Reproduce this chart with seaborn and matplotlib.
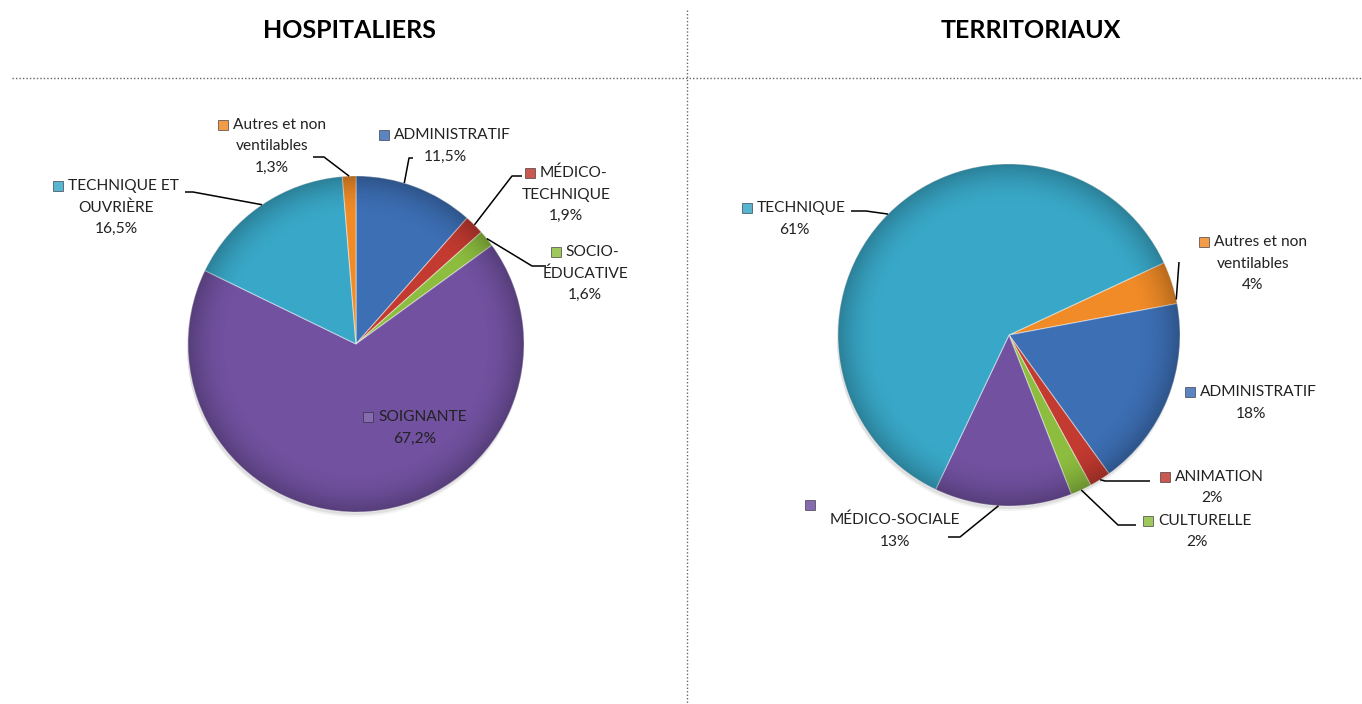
import numpy as np
import matplotlib.pyplot as plt
from matplotlib.patches import Rectangle, Circle
import seaborn as sns

W, H = 1362, 704

# --- data -------------------------------------------------------------
HOSP_TITLE = "HOSPITALIERS"
HOSP_CATEGORIES = ["ADMINISTRATIF", "MÉDICO-\nTECHNIQUE", "SOCIO-\nÉDUCATIVE",
                   "SOIGNANTE", "TECHNIQUE ET\nOUVRIÈRE", "Autres et non\nventilables"]
HOSP_VALUES = [11.5, 1.9, 1.6, 67.2, 16.5, 1.3]
HOSP_KEYS = ["admin", "red", "green", "purple", "aqua", "orange"]

TERR_TITLE = "TERRITORIAUX"
TERR_CATEGORIES = ["Autres et non\nventilables", "ADMINISTRATIF", "ANIMATION",
                   "CULTURELLE", "\nMÉDICO-SOCIALE", "TECHNIQUE"]
TERR_VALUES = [4, 18, 2, 2, 13, 61]
TERR_KEYS = ["orange", "admin", "red", "green", "purple", "aqua"]

PALETTE = {"admin": "#3D6FB5", "red": "#C23A30", "green": "#8DBD3F",
           "purple": "#7151A0", "aqua": "#39A8C8", "orange": "#F08B27"}

# --- layout (pixels from top-left) -------------------------------------
HOSP_PIE = dict(cx=356, cy=344, r=168, start=90)
TERR_PIE = dict(cx=1009, cy=335, r=171, start=25)

# label block centre x, first line y
HOSP_LABEL_POS = [(445, 135), (566, 173), (585, 252), (415, 417), (116, 186), (272, 125)]
TERR_LABEL_POS = [(1253, 242), (1251, 392), (1212, 477), (1197, 521), (895, 505), (794, 208)]
# leader: start x, y, shoulder x, arc angle (None -> wedge middle)
HOSP_LEADERS = [(413, 158, 409, 73.3), (522, 176, 512, None), (546, 266, 532, None),
                None, (185, 192, 193, 124), (313, 157, 324, None)]
TERR_LEADERS = [(1179, 262, 1179, 12), None, (1150, 481, 1105, None),
                (1136, 525, 1118, None), (948, 537, 960, -93.5), (851, 211, 866, 135)]

FONT = "Lato"
FS = 11.2
LINE_H = 21.5
MK = 10
GAP = 5
TXT = "#222222"

sns.set_theme(style="white")
plt.rcParams["font.family"] = [FONT, "DejaVu Sans"]

fig = plt.figure(figsize=(W / 100, H / 100), dpi=100)
ax = fig.add_axes([0, 0, 1, 1])
renderer = fig.canvas.get_renderer()


def shade(cx, cy, r):
    n = 400
    g = np.linspace(-1, 1, n)
    xx, yy = np.meshgrid(g, g)
    rho = np.hypot(xx, yy)
    img = np.zeros((n, n, 4))
    img[..., 3] = np.clip((rho - 0.75) / 0.25, 0, 1) ** 2 * 0.24
    im = ax.imshow(img, extent=(cx - r, cx + r, cy - r, cy + r), origin="lower",
                   zorder=3, interpolation="bilinear")
    im.set_clip_path(Circle((cx, cy), r, transform=ax.transData))


def lighten(c, f=0.15):
    return tuple(x + (1 - x) * f for x in c)


def draw_pie(values, keys, cats, pie, label_pos, leaders, decimals):
    cx, cy, r = pie["cx"], H - pie["cy"], pie["r"]
    colors = sns.color_palette([PALETTE[k] for k in keys])
    for off, a in [(5, 0.05), (3, 0.08)]:
        ax.add_patch(Circle((cx - 1, cy - off), r, color="black", alpha=a, lw=0, zorder=1))
    wedges, _ = ax.pie(values, colors=colors, startangle=pie["start"], counterclock=False,
                       center=(cx, cy), radius=r,
                       wedgeprops=dict(edgecolor=(1, 1, 1, 0.45), linewidth=0.8, zorder=2))
    shade(cx, cy, r)

    for w, v, cat, col, (lx, ly), lead in zip(wedges, values, cats, colors, label_pos, leaders):
        pct = f"{v:.{decimals}f}".replace(".", ",") + "%"
        lines = cat.split("\n") + [pct]
        first_empty = lines[0] == ""
        ys = []
        for i in range(len(lines)):
            if first_empty and i > 0:
                ys.append(ly + 15 + (i - 1) * LINE_H)
            else:
                ys.append(ly + i * LINE_H)
        widths = []
        for i, (line, y) in enumerate(zip(lines, ys)):
            if line == "":
                widths.append(0)
                continue
            x = lx + (MK + GAP) / 2 if i == 0 else lx
            t = ax.text(x, H - y, line, ha="center", va="center", fontsize=FS,
                        color=TXT, zorder=5)
            widths.append(t.get_window_extent(renderer).width)
        if first_empty:
            mx = lx - max(widths) / 2 - 25
        else:
            mx = lx + (MK + GAP) / 2 - widths[0] / 2 - GAP - MK
        ax.add_patch(Rectangle((mx, H - ys[0] - MK / 2), MK, MK, facecolor=lighten(col),
                               edgecolor=(0.15, 0.15, 0.2, 0.6), lw=0.7, zorder=5))

        if lead is not None:
            x0, y0, x1, ang = lead
            if ang is None:
                ang = (w.theta1 + w.theta2) / 2
            ex = cx + r * np.cos(np.radians(ang))
            ey = cy + r * np.sin(np.radians(ang))
            ax.plot([x0, x1, ex], [H - y0, H - y0, ey], color="black", lw=1.1, zorder=4,
                    solid_capstyle="butt")


draw_pie(HOSP_VALUES, HOSP_KEYS, HOSP_CATEGORIES, HOSP_PIE, HOSP_LABEL_POS, HOSP_LEADERS, 1)
draw_pie(TERR_VALUES, TERR_KEYS, TERR_CATEGORIES, TERR_PIE, TERR_LABEL_POS, TERR_LEADERS, 0)

# titles and dotted separators
ax.text(349, H - 30, HOSP_TITLE, ha="center", va="center", fontsize=18,
        fontweight="bold", color="black")
ax.text(1031, H - 30, TERR_TITLE, ha="center", va="center", fontsize=18,
        fontweight="bold", color="black")
ax.plot([12, W], [H - 78, H - 78], color="#666666", lw=1, ls=(0, (1, 1.5)), zorder=0)
ax.plot([687, 687], [H - 10, 0], color="#666666", lw=1, ls=(0, (1, 1.5)), zorder=0)

ax.set_xlim(0, W)
ax.set_ylim(0, H)
ax.set_aspect("auto")
ax.axis("off")

fig.savefig("out.png", dpi=100, facecolor="white")
